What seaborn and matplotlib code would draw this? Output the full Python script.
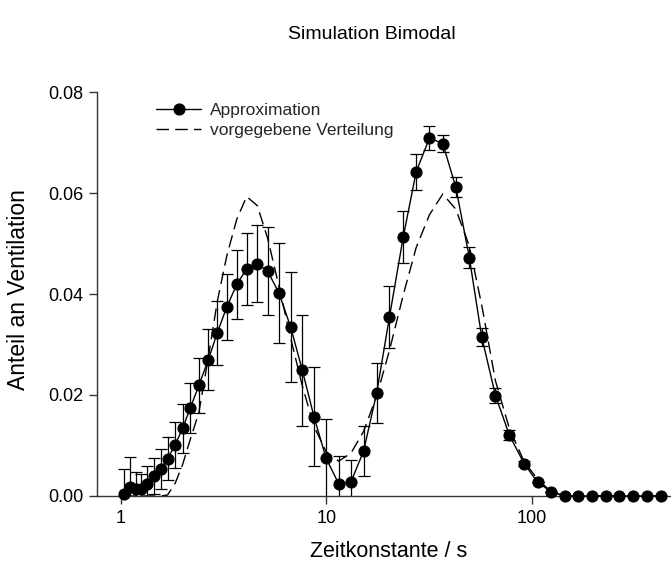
import numpy as np
import pandas as pd
import matplotlib
matplotlib.use("Agg")
import matplotlib.pyplot as plt
import seaborn as sns

# Time constants (s) of the compartments
tau = [1.04, 1.11, 1.19, 1.25, 1.35, 1.45, 1.57, 1.69, 1.84, 2.00,
       2.18, 2.40, 2.67, 2.95, 3.28, 3.67, 4.10, 4.62, 5.19, 5.89,
       6.72, 7.65, 8.72, 9.98, 11.5, 13.2, 15.2, 17.6, 20.3, 23.7,
       27.4, 31.8, 36.9, 42.7, 49.7, 57.1, 66.6, 77.9, 91.9, 106.9,
       124.6, 145.2, 168.6, 196.6, 229.2, 266.9, 312.2, 362.7, 425.8]

# Recovered distribution (mean) and its standard deviation
approx = [0.0003, 0.0017, 0.0013, 0.0014, 0.0024, 0.0039, 0.0054, 0.0074, 0.0101, 0.0134,
          0.0174, 0.0219, 0.0270, 0.0323, 0.0374, 0.0419, 0.0450, 0.0460, 0.0445, 0.0402,
          0.0334, 0.0249, 0.0157, 0.0075, 0.0024, 0.0028, 0.0089, 0.0204, 0.0354, 0.0513,
          0.0642, 0.0709, 0.0698, 0.0612, 0.0472, 0.0315, 0.0199, 0.0120, 0.0064, 0.0027,
          0.0008, 0.0, 0.0, 0.0, 0.0, 0.0, 0.0, 0.0, 0.0]
approx_sd = [0.0050, 0.0061, 0.0034, 0.0030, 0.0035, 0.0036, 0.0040, 0.0043, 0.0045, 0.0048,
             0.0050, 0.0054, 0.0060, 0.0064, 0.0066, 0.0069, 0.0071, 0.0076, 0.0087, 0.0099,
             0.0109, 0.0110, 0.0098, 0.0077, 0.0055, 0.0044, 0.0050, 0.0059, 0.0061, 0.0051,
             0.0036, 0.0023, 0.0016, 0.0019, 0.0021, 0.0018, 0.0014, 0.0010, 0.0005, 0.0,
             0.0, 0.0, 0.0, 0.0, 0.0, 0.0, 0.0, 0.0, 0.0]

# Prescribed bimodal distribution
given = [0.0, 0.0, 0.0, 0.0, 0.0, 0.0, 0.0, 0.0002, 0.0025, 0.0062,
         0.0112, 0.0165, 0.0275, 0.0385, 0.0475, 0.0548, 0.0593, 0.0575, 0.0510, 0.0415,
         0.0312, 0.0218, 0.0138, 0.0088, 0.0069, 0.0085, 0.0128, 0.0198, 0.0288, 0.0398,
         0.0492, 0.0557, 0.0598, 0.0568, 0.0495, 0.0378, 0.0228, 0.0133, 0.0068, 0.0033,
         0.0008, 0.0, 0.0, 0.0, 0.0, 0.0, 0.0, 0.0, 0.0]

x_ticks = [1, 10, 100]
x_ticklabels = ["1", "10", "100"]
y_ticks = [0.00, 0.02, 0.04, 0.06, 0.08]

df = pd.DataFrame({"tau": tau, "approx": approx, "sd": approx_sd, "given": given})

sns.set_theme(style="ticks")
plt.rcParams["font.family"] = ["Liberation Sans", "DejaVu Sans"]

fig = plt.figure(figsize=(6.71, 5.69), dpi=100)
ax = fig.add_axes([0.1446, 0.1283, 0.8554, 0.7100])

ax.errorbar(df["tau"], df["approx"], yerr=df["sd"], fmt="none",
            ecolor="black", elinewidth=0.9, capsize=4, capthick=0.9, zorder=2)

sns.lineplot(data=df, x="tau", y="given", ax=ax, color="black",
             linewidth=1.0, linestyle=(0, (9, 4.5)), label="vorgegebene Verteilung",
             zorder=3, sort=False)
sns.lineplot(data=df, x="tau", y="approx", ax=ax, color="black",
             linewidth=1.0, marker="o", markersize=8, markeredgecolor="black",
             markerfacecolor="black", label="Approximation", zorder=4,
             clip_on=False, sort=False)

ax.set_xscale("log")
ax.set_xlim(0.767, 476)
ax.set_ylim(0, 0.08)
ax.set_xticks(x_ticks)
ax.set_xticklabels(x_ticklabels)
ax.xaxis.set_minor_locator(matplotlib.ticker.NullLocator())
ax.set_yticks(y_ticks)
ax.set_yticklabels([f"{v:.2f}" for v in y_ticks])

for side in ("top", "right"):
    ax.spines[side].set_visible(False)
for side in ("left", "bottom"):
    ax.spines[side].set_linewidth(1.0)
    ax.spines[side].set_color("#333333")
ax.tick_params(axis="both", direction="out", length=6, width=1.0,
               color="#333333", labelsize=13, pad=4, labelcolor="black")

ax.set_xlabel("Zeitkonstante / s", fontsize=15.5, color="black")
ax.set_ylabel("Anteil an Ventilation", fontsize=16.5, color="black")
ax.xaxis.set_label_coords(0.508, -0.112)
ax.yaxis.set_label_coords(-0.117, 0.51)

handles, labels = ax.get_legend_handles_labels()
order = [labels.index("Approximation"), labels.index("vorgegebene Verteilung")]
ax.legend([handles[i] for i in order], [labels[i] for i in order],
          loc="upper left", bbox_to_anchor=(0.085, 1.0), frameon=False,
          fontsize=12.5, handlelength=2.6, handletextpad=0.5, labelspacing=0.3,
          borderaxespad=0.2)

fig.text(0.554, 0.94, "Simulation Bimodal", ha="center", va="center",
         fontsize=14, color="black")

fig.savefig("out.png", dpi=100, facecolor="white")
